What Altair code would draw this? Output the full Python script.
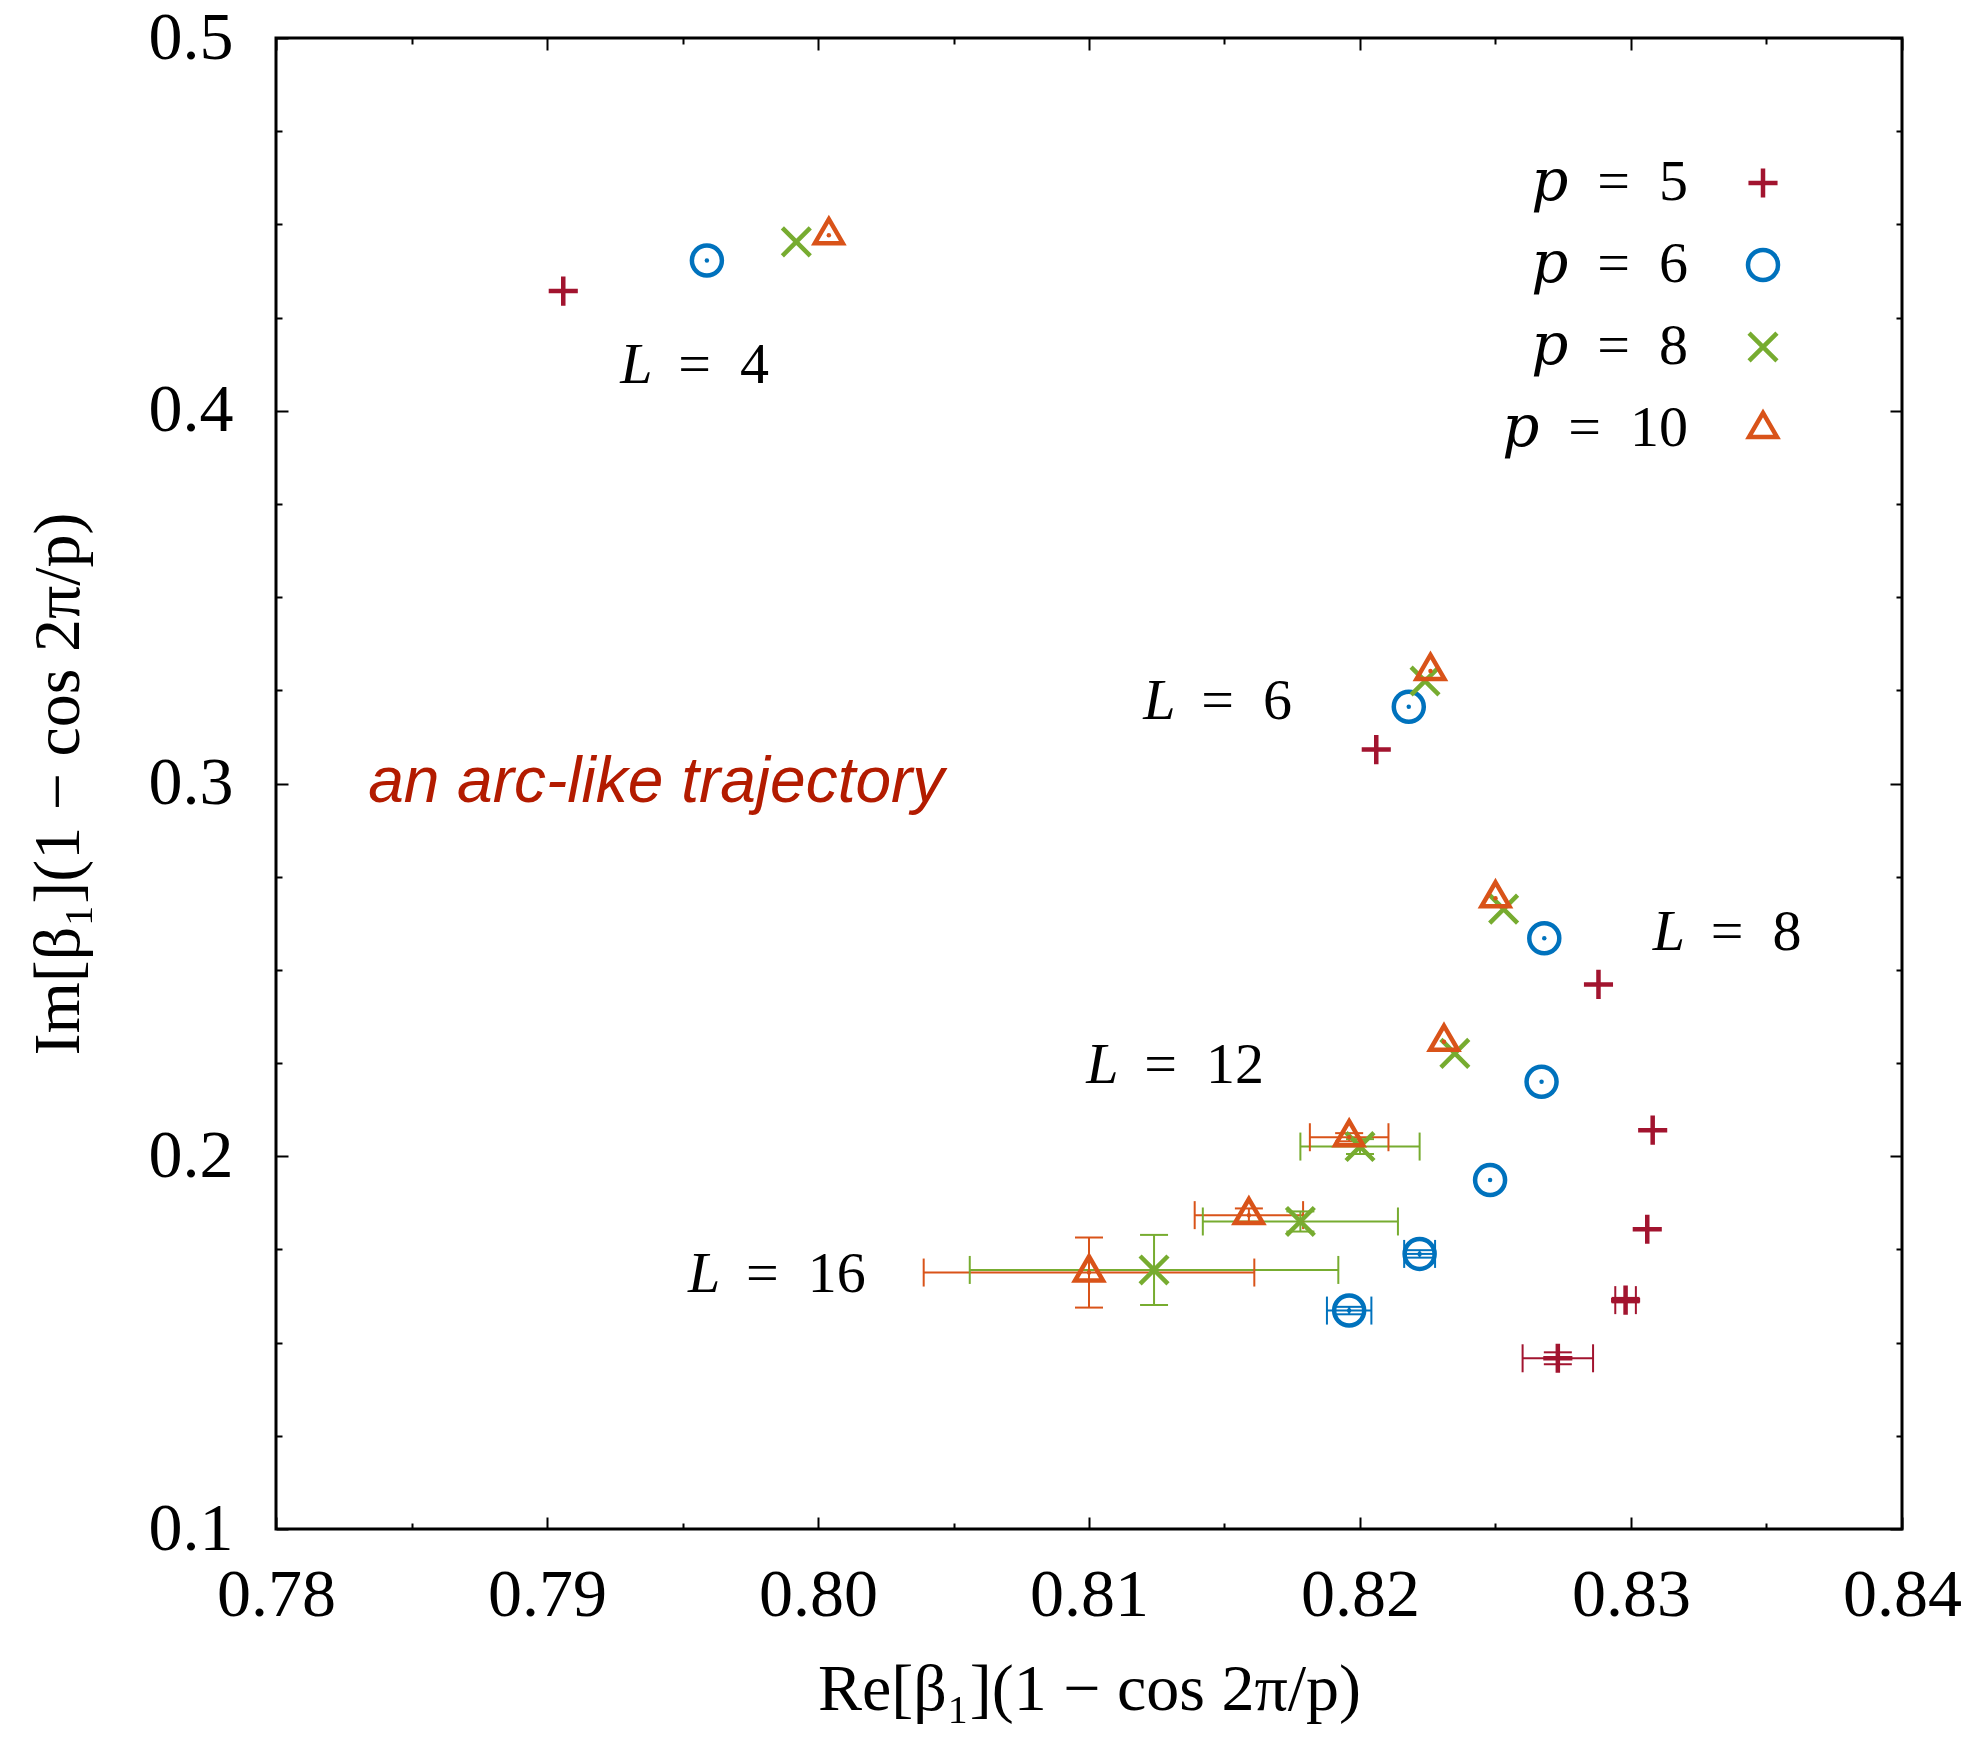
import altair as alt
import pandas as pd

# ---------------- data ----------------
series_names = ["𝑝\u2002=\u20025", "𝑝\u2002=\u20026", "𝑝\u2002=\u20028", "𝑝\u2002=\u200210"]
series_colors = ["#A2142F", "#0072BD", "#77AC30", "#D95319"]
series_shapes = [
    "M-0.97,0L0.97,0M0,-0.97L0,0.97",
    "circle",
    "M-0.93,-0.93L0.93,0.93M0.93,-0.93L-0.93,0.93",
    "M0,-1.07L0.93,0.53L-0.93,0.53Z",
]
L_values = [4, 6, 8, 10, 12, 14, 16]

re_p5 = [0.7906, 0.8206, 0.8288, 0.8308, 0.8306, 0.8298, 0.8273]
im_p5 = [0.4321, 0.3091, 0.2461, 0.2070, 0.1804, 0.1614, 0.1458]
xerr_p5 = [0, 0, 0, 0, 0, 0.00038, 0.0013]
yerr_p5 = [0, 0, 0, 0, 0, 0.0006, 0.0016]

re_p6 = [0.7959, 0.8218, 0.8268, 0.8267, 0.8248, 0.8222, 0.8196]
im_p6 = [0.4403, 0.3206, 0.2585, 0.2200, 0.1936, 0.1738, 0.1586]
xerr_p6 = [0, 0, 0, 0, 0, 0.00057, 0.00082]
yerr_p6 = [0, 0, 0, 0, 0, 0.0010, 0.0010]

re_p8 = [0.7992, 0.8224, 0.8253, 0.8235, 0.8200, 0.8178, 0.8124]
im_p8 = [0.4453, 0.3275, 0.2663, 0.2276, 0.2026, 0.1825, 0.1695]
xerr_p8 = [0, 0, 0, 0, 0.0022, 0.0036, 0.0068]
yerr_p8 = [0, 0, 0, 0, 0.0020, 0.0027, 0.0094]

re_p10 = [0.8004, 0.8226, 0.8250, 0.8231, 0.8196, 0.8159, 0.8100]
im_p10 = [0.4471, 0.3302, 0.2692, 0.2307, 0.2051, 0.1842, 0.1688]
xerr_p10 = [0, 0, 0, 0, 0.00145, 0.0020, 0.0061]
yerr_p10 = [0, 0, 0, 0, 0.0011, 0.0018, 0.0094]

L_label_text = ["=\u20024", "=\u20026", "=\u20028", "=\u200212", "=\u200216"]
L_label_x = [0.7927, 0.8120, 0.8308, 0.8099, 0.7952]
L_label_y = [0.4075, 0.3172, 0.2554, 0.2196, 0.1635]

note_text = ["an arc-like trajectory"]
note_x = [0.7834]
note_y = [0.2951]

x_major = [0.78, 0.79, 0.80, 0.81, 0.82, 0.83, 0.84]
x_minor = [0.785, 0.795, 0.805, 0.815, 0.825, 0.835]
y_major = [0.1, 0.2, 0.3, 0.4, 0.5]
y_minor = [0.125, 0.15, 0.175, 0.225, 0.25, 0.275, 0.325, 0.35, 0.375,
           0.425, 0.45, 0.475]

# ---------------- tables ----------------
all_re = [re_p5, re_p6, re_p8, re_p10]
all_im = [im_p5, im_p6, im_p8, im_p10]
all_xe = [xerr_p5, xerr_p6, xerr_p8, xerr_p10]
all_ye = [yerr_p5, yerr_p6, yerr_p8, yerr_p10]

rows, hbars, vbars, vcaps, hcaps = [], [], [], [], []
for s, name in enumerate(series_names):
    for i, L in enumerate(L_values):
        r, m, xe, ye = all_re[s][i], all_im[s][i], all_xe[s][i], all_ye[s][i]
        rows.append({"series": name, "L": L, "re": r, "im": m,
                     "dot": s in (1, 3)})
        if xe > 0:
            hbars.append({"series": name, "lo": r - xe, "hi": r + xe, "im": m})
            vcaps.append({"series": name, "re": r - xe, "im": m})
            vcaps.append({"series": name, "re": r + xe, "im": m})
        if ye > 0:
            vbars.append({"series": name, "re": r, "lo": m - ye, "hi": m + ye})
            hcaps.append({"series": name, "re": r, "im": m - ye})
            hcaps.append({"series": name, "re": r, "im": m + ye})

pts = pd.DataFrame(rows)
hb = pd.DataFrame(hbars)
vb = pd.DataFrame(vbars)
vc = pd.DataFrame(vcaps)
hc = pd.DataFrame(hcaps)
lab = pd.DataFrame({"t": L_label_text, "x": L_label_x, "y": L_label_y})
note = pd.DataFrame({"t": note_text, "x": note_x, "y": note_y})

W, H = 1626, 1491
SERIF = "Liberation Serif"

xs = alt.Scale(domain=[0.78, 0.84], nice=False, zero=False)
ys = alt.Scale(domain=[0.1, 0.5], nice=False, zero=False)
cscale = alt.Scale(domain=series_names, range=series_colors)
sscale = alt.Scale(domain=series_names, range=series_shapes)

legend = alt.Legend(
    title=None, orient="none", legendX=1258, legendY=116, direction="vertical",
    labelFont="Liberation Serif, DejaVu Serif, serif", labelFontSize=58,
    labelColor="black", labelAlign="right",
    labelOffset={"expr": "-104"}, symbolOffset=200, symbolSize=900,
    symbolStrokeWidth=4.5, rowPadding=24, padding=0, labelLimit=400,
)

def X(field, axis=None):
    return alt.X(f"{field}:Q", scale=xs, axis=axis)

def Y(field, axis=None):
    return alt.Y(f"{field}:Q", scale=ys, axis=axis)

col = alt.Color("series:N", scale=cscale, legend=None)

hbar_layer = alt.Chart(hb).mark_rule(strokeWidth=2).encode(
    x=X("lo"), x2="hi", y=Y("im"), color=col)
vbar_layer = alt.Chart(vb).mark_rule(strokeWidth=2).encode(
    x=X("re"), y=Y("lo"), y2="hi", color=col)
vcap_layer = alt.Chart(vc).mark_tick(orient="vertical", size=28, thickness=2,
                                     opacity=1).encode(x=X("re"), y=Y("im"), color=col)
hcap_layer = alt.Chart(hc).mark_tick(orient="horizontal", size=28, thickness=2,
                                     opacity=1).encode(x=X("re"), y=Y("im"), color=col)

point_layer = alt.Chart(pts).mark_point(filled=False, size=900, strokeWidth=4.5,
                                        opacity=1).encode(
    x=X("re"), y=Y("im"),
    color=alt.Color("series:N", scale=cscale, legend=legend),
    shape=alt.Shape("series:N", scale=sscale, legend=legend),
)
dot_layer = alt.Chart(pts).transform_filter("datum.dot").mark_point(
    shape="circle", filled=True, size=20, opacity=1).encode(
    x=X("re"), y=Y("im"), color=col)

lab_L = alt.Chart(lab).mark_text(text="L", font=SERIF, fontSize=58, fontStyle="italic",
                                 align="left", baseline="alphabetic", color="black").encode(
    x=X("x"), y=Y("y"))
lab_rest = alt.Chart(lab).mark_text(font=SERIF, fontSize=58, align="left", dx=58,
                                    baseline="alphabetic", color="black").encode(
    x=X("x"), y=Y("y"), text="t:N")
note_layer = alt.Chart(note).mark_text(font="Liberation Sans", fontSize=64,
                                       fontStyle="italic", align="left",
                                       baseline="alphabetic", color="#B31B00").encode(
    x=X("x"), y=Y("y"), text="t:N")

# ---------------- axes ----------------
label_x_axis = alt.Axis(
    orient="bottom", values=x_major, format=".2f", ticks=False, tickSize=0,
    domain=False, grid=False, labelFont=SERIF, labelFontSize=68, labelColor="black",
    labelPadding=32, labelFlush=False, labelOverlap=False,
    title="Re[β₁](1 − cos 2π/p)", titleFont=SERIF, titleFontSize=66,
    titleFontWeight="normal", titleColor="black", titleX=W / 2, titleY=180,
    titleAlign="center", titleBaseline="alphabetic")
label_y_axis = alt.Axis(
    orient="left", values=y_major, format=".1f", ticks=False, tickSize=0,
    domain=False, grid=False, labelFont=SERIF, labelFontSize=68, labelColor="black",
    labelPadding=43, labelFlush=False, labelOverlap=False,
    title="Im[β₁](1 − cos 2π/p)", titleFont=SERIF, titleFontSize=66,
    titleFontWeight="normal", titleColor="black", titleX=-198, titleY=H / 2,
    titleAngle=270, titleAlign="center", titleBaseline="alphabetic")

def tick_axis(orient, offset, values, size):
    return alt.Axis(orient=orient, offset=offset, values=values, labels=False,
                    domain=False, grid=False, title=None, ticks=True,
                    tickColor="black", tickWidth=2, tickSize=size)

def axis_layer(xa, ya):
    return alt.Chart(pts).mark_point(opacity=0).encode(x=X("re", xa), y=Y("im", ya))

axis_layers = [
    axis_layer(label_x_axis, label_y_axis),
    axis_layer(tick_axis("top", -H, x_major, 12), tick_axis("right", -W, y_major, 12)),
    axis_layer(tick_axis("top", -H, x_minor, 6), tick_axis("right", -W, y_minor, 6)),
    axis_layer(tick_axis("bottom", -H, x_major, 12), tick_axis("left", -W, y_major, 12)),
    axis_layer(tick_axis("bottom", -H, x_minor, 6), tick_axis("left", -W, y_minor, 6)),
]

chart = alt.layer(
    *axis_layers,
    hbar_layer, vbar_layer, vcap_layer, hcap_layer,
    point_layer, dot_layer, lab_L, lab_rest, note_layer,
).resolve_axis(
    x="independent", y="independent"
).resolve_legend(
    color="independent", shape="independent"
).properties(
    width=W, height=H,
    autosize=alt.AutoSizeParams(type="none"),
    padding={"left": 276, "top": 38, "right": 73, "bottom": 208},
    background="white",
).configure_view(stroke="black", strokeWidth=3)

chart.save("out.html", embed_options={"renderer": "svg", "actions": False})
